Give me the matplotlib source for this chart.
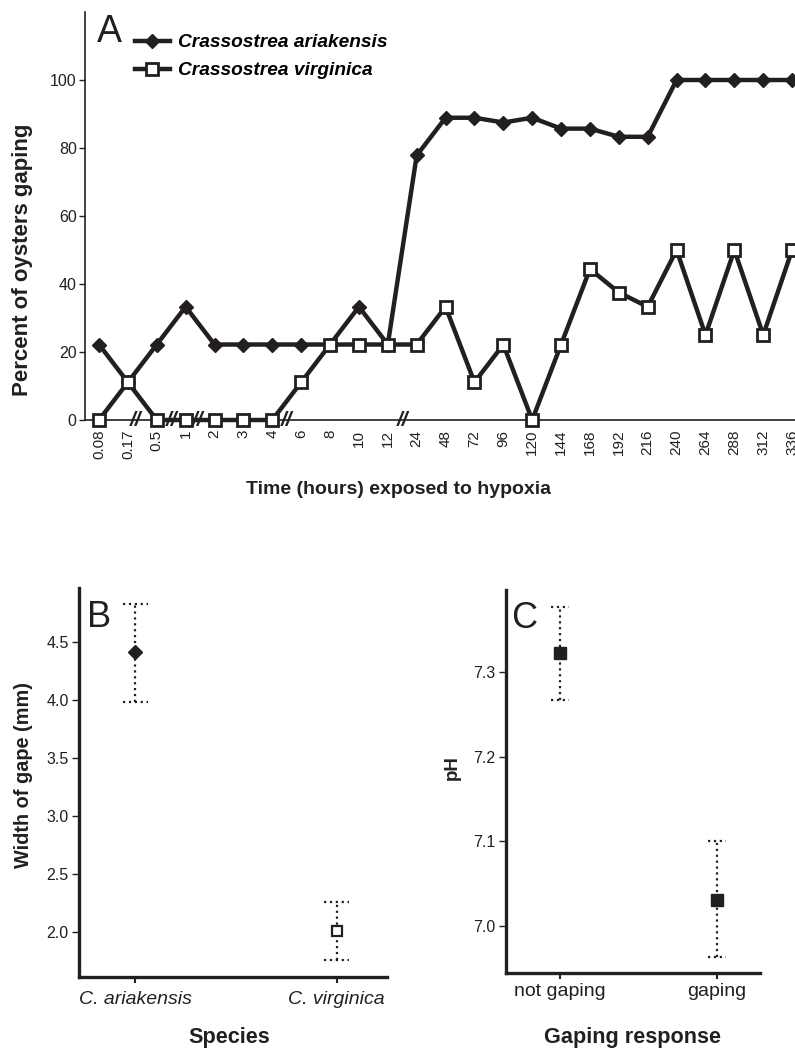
import matplotlib
matplotlib.use('Agg')
import matplotlib.pyplot as plt
import numpy as np

plt.rcParams['font.family'] = ['Liberation Sans', 'DejaVu Sans']
INK = '#231f20'

# Panel A: percent of oysters gaping vs time exposed to hypoxia
hours = ['0.08', '0.17', '0.5', '1', '2', '3', '4', '6', '8', '10', '12', '24', '48',
         '72', '96', '120', '144', '168', '192', '216', '240', '264', '288', '312', '336']
ariakensis_pct = [22.2, 11.1, 22.2, 33.3, 22.2, 22.2, 22.2, 22.2, 22.2, 33.3, 22.2, 77.8, 88.9,
                  88.9, 87.5, 88.9, 85.7, 85.7, 83.3, 83.3, 100, 100, 100, 100, 100]
virginica_pct = [0, 11.1, 0, 0, 0, 0, 0, 11.1, 22.2, 22.2, 22.2, 22.2, 33.3,
                 11.1, 22.2, 0, 22.2, 44.4, 37.5, 33.3, 50, 25, 50, 25, 50]
# axis-break marks on the time axis (in category units)
break_pos = [1.25, 2.5, 3.4, 6.5, 10.5]

# Panel B: width of gape by species
species = ['C. ariakensis', 'C. virginica']
gape_mean = [4.41, 2.01]
gape_low = [3.98, 1.76]
gape_high = [4.83, 2.26]

# Panel C: pH by gaping response
response = ['not gaping', 'gaping']
ph_mean = [7.322, 7.031]
ph_low = [7.267, 6.963]
ph_high = [7.377, 7.100]

W, H = 795, 1048
fig = plt.figure(figsize=(W / 100, H / 100), dpi=100)


def box(left, top, right, bottom):
    # pixel box -> figure fraction
    return [left / W, 1 - bottom / H, (right - left) / W, (bottom - top) / H]


# ---- Panel A ----
axA = fig.add_axes(box(85, 12, 795, 420))
x = np.arange(len(hours))
axA.plot(x, ariakensis_pct, color=INK, lw=3.2, marker='D', ms=7, mfc=INK, mec=INK,
         clip_on=False, zorder=3, label='Crassostrea ariakensis')
axA.plot(x, virginica_pct, color=INK, lw=3.2, marker='s', ms=8, mfc='white', mec=INK, mew=2,
         clip_on=False, zorder=4, label='Crassostrea virginica')
for b in break_pos:
    axA.text(b, 0, '//', fontsize=15, fontweight='heavy', fontstyle='italic', color=INK,
             ha='center', va='center', clip_on=False, zorder=5)
axA.set_xlim(-0.485, 24.1)
axA.set_ylim(0, 120)
axA.set_yticks(range(0, 101, 20))
axA.set_xticks(x, hours, rotation=90)
for s in ['top', 'right']:
    axA.spines[s].set_visible(False)
for s in ['left', 'bottom']:
    axA.spines[s].set_linewidth(1.2)
    axA.spines[s].set_color(INK)
axA.tick_params(axis='y', length=4.5, width=1, pad=1.5, labelsize=11.5, colors=INK)
axA.tick_params(axis='x', length=0, pad=7, labelsize=11, colors=INK)
axA.legend(loc='upper left', bbox_to_anchor=(135 / W, 1 - 34 / H), bbox_transform=fig.transFigure,
           frameon=False, prop=dict(weight='bold', style='italic', size=13.8),
           handlelength=1.8, handletextpad=0.45, labelspacing=0.55, borderpad=0, borderaxespad=0)
fig.text(97 / W, 1 - 42 / H, 'A', fontsize=27, color=INK, va='baseline')
fig.text(22.5 / W, 1 - 260 / H, 'Percent of oysters gaping', rotation=90, fontsize=16,
         fontweight='bold', color=INK, ha='center', va='center')
fig.text(398 / W, 1 - 490 / H, 'Time (hours) exposed to hypoxia', fontsize=14,
         fontweight='bold', color=INK, ha='center', va='center')


def style_small(ax):
    for s in ['top', 'right']:
        ax.spines[s].set_visible(False)
    for s in ['left', 'bottom']:
        ax.spines[s].set_linewidth(2.4)
        ax.spines[s].set_color(INK)
    ax.tick_params(axis='y', length=5, width=1, pad=2.5, labelsize=11.5, colors=INK)


def draw_err(ax, xs, low, high, half=0.062):
    ax.vlines(xs, low, high, colors=INK, linestyles=':', lw=1.6, zorder=2)
    ax.hlines(low, xs - half, xs + half, colors=INK, linestyles=':', lw=1.6, zorder=2)
    ax.hlines(high, xs - half, xs + half, colors=INK, linestyles=':', lw=1.6, zorder=2)


# ---- Panel B ----
axB = fig.add_axes(box(79, 588, 387, 977))
xb = np.arange(len(species))
draw_err(axB, xb, gape_low, gape_high)
b_markers = [dict(marker='D', ms=7.5, mfc=INK, mec=INK),
             dict(marker='s', ms=7.5, mfc='white', mec=INK, mew=1.6)]
for xi, yi, st in zip(xb, gape_mean, b_markers):
    axB.plot([xi], [yi], ls='none', zorder=3, **st)
axB.set_xlim(-0.28, 1.25)
axB.set_ylim(1.61, 4.965)
axB.set_yticks(np.arange(2.0, 4.51, 0.5))
axB.set_yticklabels([f'{v:.1f}' for v in np.arange(2.0, 4.51, 0.5)])
axB.set_xticks(xb, species, fontstyle='italic')
style_small(axB)
axB.tick_params(axis='x', length=4, width=1.5, pad=6, labelsize=14, colors=INK)
fig.text(87 / W, 1 - 627 / H, 'B', fontsize=26, color=INK, va='baseline')
fig.text(24 / W, 1 - 775 / H, 'Width of gape (mm)', rotation=90, fontsize=14.3,
         fontweight='bold', color=INK, ha='center', va='center')
fig.text(229.5 / W, 1 - 1043 / H, 'Species', fontsize=15.6, fontweight='bold', color=INK,
         ha='center', va='baseline')

# ---- Panel C ----
axC = fig.add_axes(box(506, 590, 760, 973))
xc = np.arange(len(response))
draw_err(axC, xc, ph_low, ph_high, half=0.06)
axC.plot(xc, ph_mean, ls='none', marker='s', ms=8, mfc=INK, mec=INK, zorder=3)
axC.set_xlim(-0.344, 1.274)
axC.set_ylim(6.9445, 7.397)
axC.set_yticks([7.0, 7.1, 7.2, 7.3])
axC.set_yticklabels(['7.0', '7.1', '7.2', '7.3'])
axC.set_xticks(xc, response)
style_small(axC)
axC.tick_params(axis='x', length=4, width=1.5, pad=3.5, labelsize=14, colors=INK)
fig.text(511 / W, 1 - 628 / H, 'C', fontsize=26, color=INK, va='baseline')
fig.text(452 / W, 1 - 768 / H, 'pH', rotation=90, fontsize=13.5, fontweight='bold', color=INK,
         ha='center', va='center')
fig.text(632.5 / W, 1 - 1043 / H, 'Gaping response', fontsize=15.6, fontweight='bold', color=INK,
         ha='center', va='baseline')

fig.savefig('out.png', dpi=100)
